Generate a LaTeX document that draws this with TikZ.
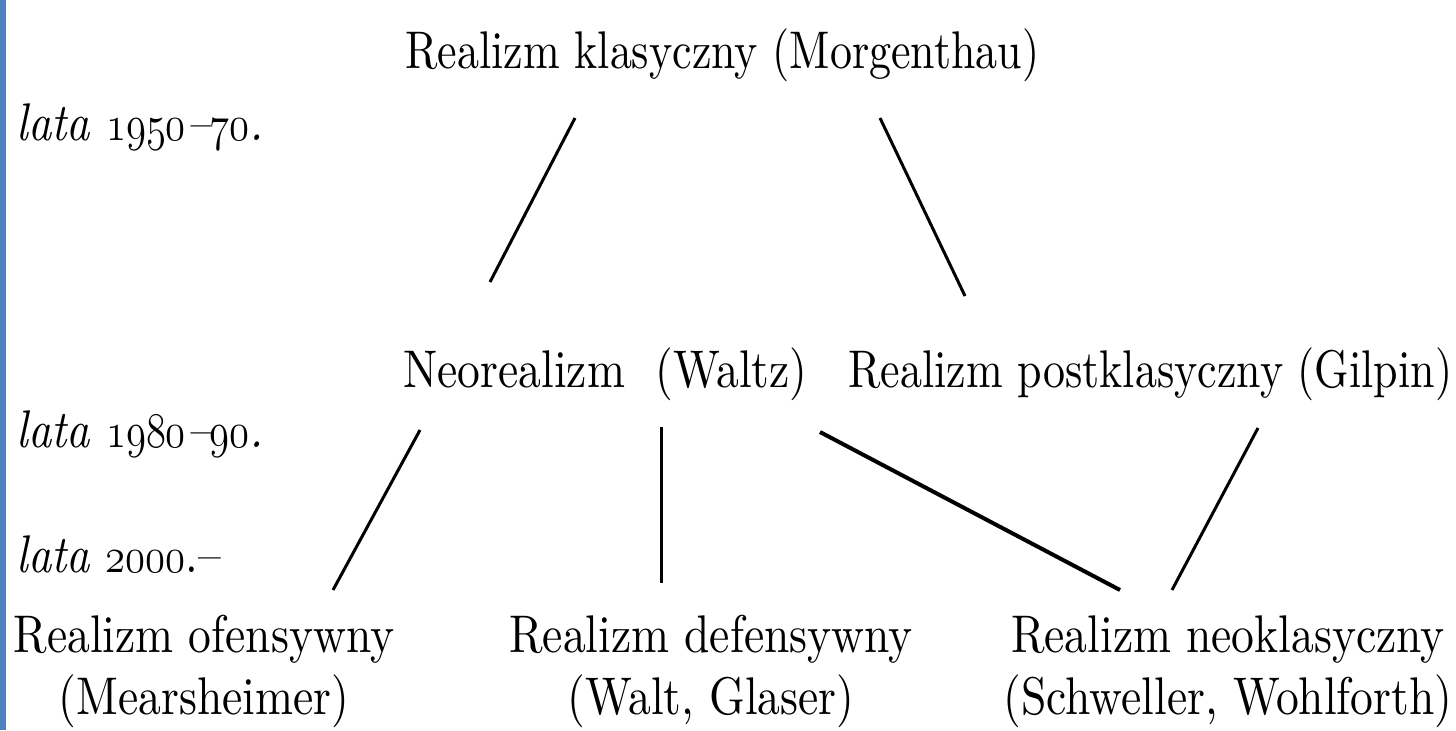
\documentclass[tikz,border=0pt]{standalone}
\usepackage{fontspec}
\setmainfont{lmroman10}[Extension=.otf, UprightFont=*-regular, ItalicFont=*-italic, FakeStretch=0.86]
\newcommand{\osn}[1]{\scalebox{0.82}[1]{\usefont{OML}{lmm}{m}{it}#1}}
\definecolor{barblue}{RGB}{79,129,189}
\tikzset{
  txt/.style={anchor=base west, inner sep=0pt, font=\fontsize{26.5}{31}\selectfont},
  two/.style={anchor=base, inner sep=0pt, align=center, font=\fontsize{26.5}{31}\selectfont},
  narrow/.style={xscale=0.965, transform shape},
  link/.style={line width=1.5pt}
}
\begin{document}
\begin{tikzpicture}[x=0.5pt,y=-0.5pt]
    \useasboundingbox (0,0) rectangle (1456,730);
    \fill[barblue] (0,0) rectangle (6,730);
    \node[txt,narrow] (klas) at (405,68) {Realizm klasyczny (Morgenthau)};
    \node[txt] (y50) at (16,140) {\textit{lata \osn{1950}–\osn{70}.}};
    \node[txt] (neo) at (403,387) {Neorealizm\ \ (Waltz)};
    \node[txt,narrow] (post) at (848,387) {Realizm postklasyczny (Gilpin)};
    \node[txt] (y80) at (16,447) {\textit{lata \osn{1980}–\osn{90}.}};
    \node[txt] (y00) at (16,572) {\textit{lata} \osn{2000}.–};
    \node[two] (ofe) at (204,714) {Realizm ofensywny\\(Mearsheimer)};
    \node[two] (def) at (711,714) {Realizm defensywny\\(Walt, Glaser)};
    \node[two] (neokl) at (1228,714) {Realizm neoklasyczny\\(Schweller, Wohlforth)};
    \draw[link] ([shift={(170,50)}]klas.base west) -- ([shift={(87,-105)}]neo.base west);
    \draw[link] ([shift={(475,50)}]klas.base west) -- ([shift={(117,-91)}]post.base west);
    \draw[link] ([shift={(17,43)}]neo.base west) -- ([shift={(129,-124)}]ofe.base);
    \draw[link] ([shift={(258,40)}]neo.base west) -- ([shift={(-50,-131)}]def.base);
    \draw[link,line width=2pt] ([shift={(417,45)}]neo.base west) -- ([shift={(-108,-124)}]neokl.base);
    \draw[link] ([shift={(410,41)}]post.base west) -- ([shift={(-56,-124)}]neokl.base);
\end{tikzpicture}
\end{document}
